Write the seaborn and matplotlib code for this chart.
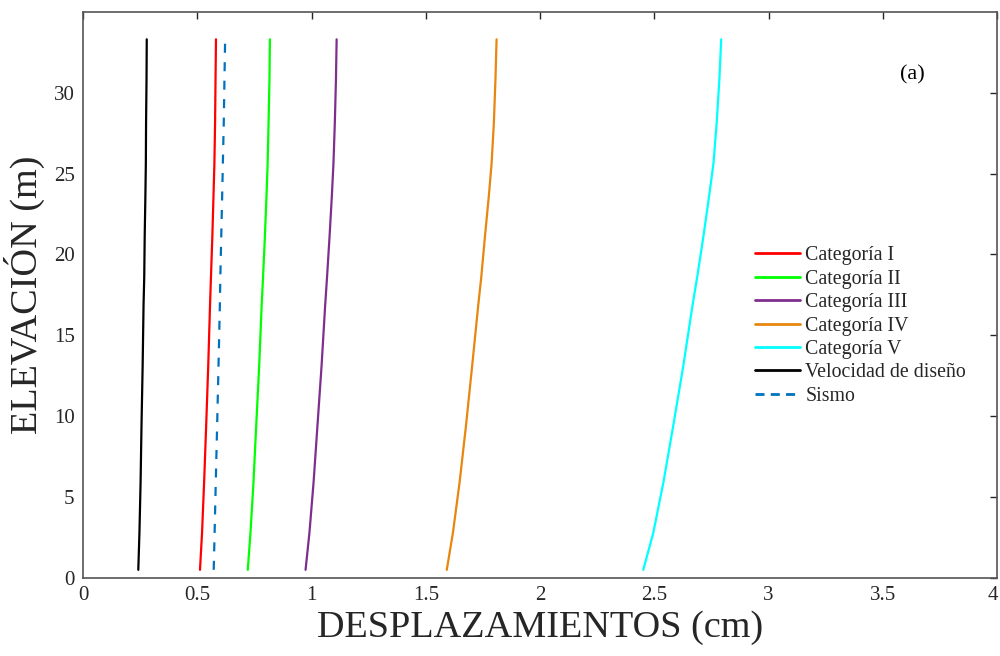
import numpy as np
import pandas as pd
import matplotlib
matplotlib.use("Agg")
import matplotlib.pyplot as plt
import matplotlib.transforms as mtransforms
import seaborn as sns

# Elevation (m) at which displacements were read
elevacion = [0.5, 2.8, 5.9, 9.4, 13.1, 16.9, 18.6, 21.1, 23.6, 25.6, 28.1, 30.8, 33.3]

# Displacements (cm)
cat_I   = [0.512, 0.521, 0.530, 0.539, 0.548, 0.556, 0.560, 0.566, 0.571, 0.575, 0.578, 0.580, 0.582]
cat_II  = [0.721, 0.733, 0.746, 0.758, 0.771, 0.782, 0.788, 0.796, 0.803, 0.808, 0.812, 0.816, 0.818]
cat_III = [0.974, 0.991, 1.009, 1.026, 1.044, 1.060, 1.068, 1.079, 1.089, 1.096, 1.102, 1.107, 1.110]
cat_IV  = [1.592, 1.619, 1.648, 1.676, 1.703, 1.730, 1.743, 1.759, 1.776, 1.788, 1.798, 1.805, 1.810]
cat_V   = [2.452, 2.496, 2.540, 2.583, 2.627, 2.668, 2.688, 2.715, 2.740, 2.759, 2.773, 2.785, 2.793]
vel_dis = [0.242, 0.247, 0.252, 0.256, 0.261, 0.265, 0.268, 0.270, 0.273, 0.275, 0.276, 0.278, 0.279]
sismo   = [0.572, 0.576, 0.581, 0.587, 0.593, 0.599, 0.601, 0.605, 0.609, 0.612, 0.616, 0.619, 0.622]

series_names = ["Categoría I", "Categoría II", "Categoría III", "Categoría IV",
                "Categoría V", "Velocidad de diseño", "Sismo"]
series_vals = [cat_I, cat_II, cat_III, cat_IV, cat_V, vel_dis, sismo]
colors = ["#FF0000", "#00FF00", "#7E2F8E", "#E8860E", "#00FFFF", "#000000", "#0072BD"]

x_ticks = [0, 0.5, 1, 1.5, 2, 2.5, 3, 3.5, 4]
x_ticklabels = ["0", "0.5", "1", "1.5", "2", "2.5", "3", "3.5", "4"]
y_ticks = [0, 5, 10, 15, 20, 25, 30]

rows = []
for name, vals in zip(series_names, series_vals):
    for e, v in zip(elevacion, vals):
        rows.append({"serie": name, "desp": v, "elev": e})
df = pd.DataFrame(rows)

sns.set_style("white")
plt.rcParams['font.family'] = ['Liberation Serif', 'DejaVu Serif']
plt.rcParams['lines.scale_dashes'] = False

fig = plt.figure(figsize=(10, 6.56), dpi=100)
ax = fig.add_axes([0.083, 0.119, 0.914, 0.863])

axc = "#262626"
for name, col in zip(series_names, colors):
    sub = df[df["serie"] == name]
    sns.lineplot(data=sub, x="desp", y="elev", sort=False, estimator=None,
                 color=col, linewidth=1.6, label=name, ax=ax)
    if name == "Sismo":
        ax.lines[-1].set_dashes([6.5, 6.8])

ax.set_xlim(0, 4)
ax.set_ylim(0, 35)
ax.set_xticks(x_ticks)
ax.set_xticklabels(x_ticklabels)
ax.set_yticks(y_ticks)
ax.tick_params(direction="in", length=5, width=1, colors=axc, labelsize=15,
               top=True, right=True, labeltop=False, labelright=False, pad=6)
for s in ax.spines.values():
    s.set_color("#555555")
    s.set_linewidth(1.2)
    s.set_visible(True)

# keep the last x tick label inside the figure edge
last = ax.get_xticklabels()[-1]
last.set_transform(last.get_transform() +
                   mtransforms.ScaledTranslation(-4 / 100, 0, fig.dpi_scale_trans))

ax.set_xlabel("DESPLAZAMIENTOS (cm)", fontsize=27.5, color=axc, labelpad=4)
ax.set_ylabel("ELEVACIÓN (m)", fontsize=27.5, color=axc, labelpad=6)

ax.text(0.907, 0.889, "(a)", transform=ax.transAxes, fontsize=16,
        color="#000000", ha="center", va="center")

leg = ax.legend(loc="center left", bbox_to_anchor=(0.735, 0.445), frameon=False,
                fontsize=14.3, handlelength=2.3, handletextpad=0.25,
                labelspacing=0.22, borderaxespad=0, borderpad=0)
for t in leg.get_texts():
    t.set_color("#262626")
for h in leg.get_lines():
    h.set_linewidth(2.0)
leg.get_lines()[-1].set_dashes([6.5, 4.5])

fig.savefig("out.png", dpi=100)
